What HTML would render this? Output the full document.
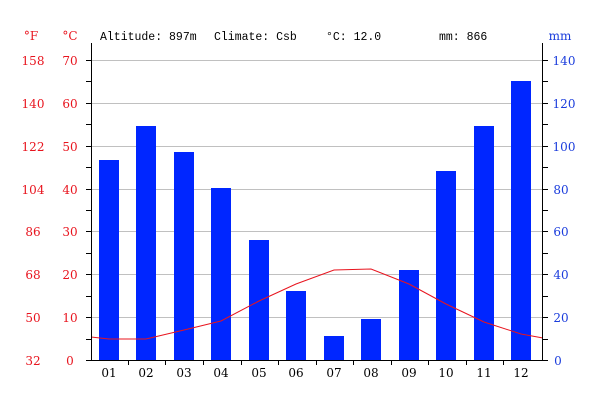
<!DOCTYPE html>
<html><head><meta charset="utf-8"><style>body{margin:0;background:#fff}</style></head><body>
<svg width="600" height="400" xmlns="http://www.w3.org/2000/svg" font-family="DejaVu Serif, serif" font-size="12">
<rect width="600" height="400" fill="#fff"/>
<g stroke="#c0c0c0" stroke-width="1">
<line x1="91" x2="543" y1="60.5" y2="60.5"/><line x1="91" x2="543" y1="103.5" y2="103.5"/><line x1="91" x2="543" y1="146.5" y2="146.5"/><line x1="91" x2="543" y1="189.5" y2="189.5"/><line x1="91" x2="543" y1="231.5" y2="231.5"/><line x1="91" x2="543" y1="274.5" y2="274.5"/><line x1="91" x2="543" y1="317.5" y2="317.5"/>
</g>
<g fill="#0026ff">
<rect x="99" y="160" width="20" height="200"/><rect x="136" y="126" width="20" height="234"/><rect x="174" y="152" width="20" height="208"/><rect x="211" y="188" width="20" height="172"/><rect x="249" y="240" width="20" height="120"/><rect x="286" y="291" width="20" height="69"/><rect x="324" y="336" width="20" height="24"/><rect x="361" y="319" width="20" height="41"/><rect x="399" y="270" width="20" height="90"/><rect x="436" y="171" width="20" height="189"/><rect x="474" y="126" width="20" height="234"/><rect x="511" y="81" width="20" height="279"/>
</g>
<polyline fill="none" stroke="#e8141e" stroke-width="1" points="91,337 109,339 146,339 184,330 221,321 259,301 296,284 334,270 371,269 409,284 446,304 484,322 521,334 543,338"/>
<g stroke="#000" stroke-width="1">
<line x1="91.5" y1="43" x2="91.5" y2="360"/><line x1="542.5" y1="43" x2="542.5" y2="360"/><line x1="91" y1="360.5" x2="543" y2="360.5"/>
<path d="M86 60.5h5M86 81.5h5M86 103.5h5M86 124.5h5M86 146.5h5M86 167.5h5M86 189.5h5M86 210.5h5M86 231.5h5M86 253.5h5M86 274.5h5M86 296.5h5M86 317.5h5M86 339.5h5M86 360.5h5"/>
<path d="M543 60.5h5M543 81.5h5M543 103.5h5M543 124.5h5M543 146.5h5M543 167.5h5M543 189.5h5M543 210.5h5M543 231.5h5M543 253.5h5M543 274.5h5M543 296.5h5M543 317.5h5M543 339.5h5M543 360.5h5"/>
<path d="M128.5 360v5M165.5 360v5M203.5 360v5M241.5 360v5M278.5 360v5M316.5 360v5M353.5 360v5M391.5 360v5M428.5 360v5M466.5 360v5M503.5 360v5"/>
</g>
<g fill="#e8141e" text-anchor="middle">
<text x="31" y="40">°F</text><text x="70" y="40">°C</text>
<text x="33" y="65">158</text><text x="70" y="65">70</text>
<text x="33" y="108">140</text><text x="70" y="108">60</text>
<text x="33" y="151">122</text><text x="70" y="151">50</text>
<text x="33" y="194">104</text><text x="70" y="194">40</text>
<text x="33" y="236">86</text><text x="70" y="236">30</text>
<text x="33" y="279">68</text><text x="70" y="279">20</text>
<text x="33" y="322">50</text><text x="70" y="322">10</text>
<text x="33" y="365">32</text><text x="70" y="365">0</text>
</g>
<g fill="#1a3cdc" text-anchor="middle">
<text x="560" y="40">mm</text>
<text x="564" y="65">140</text><text x="564" y="108">120</text><text x="564" y="151">100</text><text x="561" y="194">80</text><text x="561" y="236">60</text><text x="561" y="279">40</text><text x="561" y="322">20</text><text x="558" y="365">0</text>
</g>
<g fill="#000" text-anchor="middle">
<text x="109" y="377">01</text><text x="146" y="377">02</text><text x="184" y="377">03</text><text x="221" y="377">04</text><text x="259" y="377">05</text><text x="296" y="377">06</text><text x="334" y="377">07</text><text x="371" y="377">08</text><text x="409" y="377">09</text><text x="446" y="377">10</text><text x="484" y="377">11</text><text x="521" y="377">12</text>
</g>
<g fill="#000" font-family="Liberation Mono, monospace" font-size="11.5">
<text x="100" y="40">Altitude: 897m</text><text x="214" y="40">Climate: Csb</text><text x="326" y="40">°C: 12.0</text><text x="439" y="40">mm: 866</text>
</g>
</svg>
</body></html>
